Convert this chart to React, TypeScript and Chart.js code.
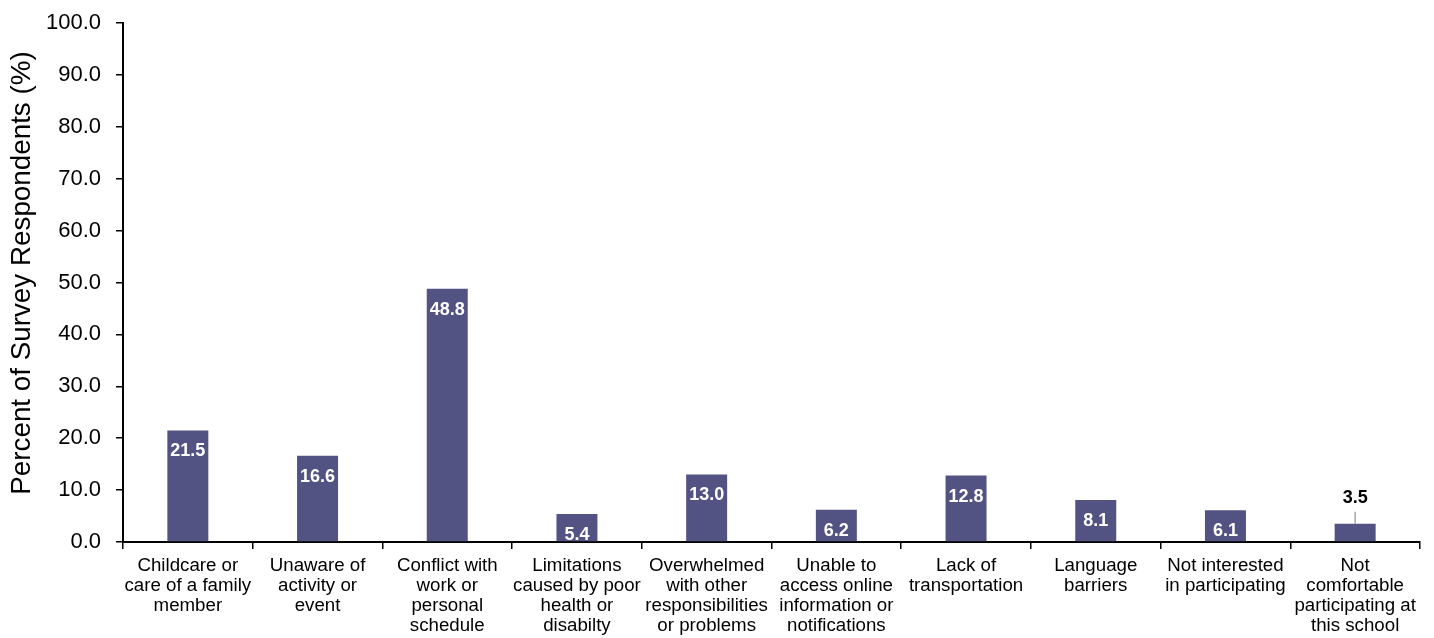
import React, { useEffect, useRef } from "react";
import { Chart, registerables } from "chart.js";

Chart.register(...registerables);

const categories: string[][] = [
  ["Childcare or", "care of a family", "member"],
  ["Unaware of", "activity or", "event"],
  ["Conflict with", "work or", "personal", "schedule"],
  ["Limitations", "caused by poor", "health or", "disabilty"],
  ["Overwhelmed", "with other", "responsibilities", "or problems"],
  ["Unable to", "access online", "information or", "notifications"],
  ["Lack of", "transportation"],
  ["Language", "barriers"],
  ["Not interested", "in participating"],
  ["Not", "comfortable", "participating at", "this school"],
];

const percentValues: number[] = [21.5, 16.6, 48.8, 5.4, 13.0, 6.2, 12.8, 8.1, 6.1, 3.5];

const yAxisTitle = "Percent of Survey Respondents (%)";
const FONT = '"Liberation Sans", Arial, sans-serif';

const labelPlugin = {
  id: "barLabels",
  afterDatasetsDraw(chart: any) {
    const ctx = chart.ctx;
    const meta = chart.getDatasetMeta(0);
    const data = chart.data.datasets[0].data as number[];
    ctx.save();
    ctx.font = `bold 18px ${FONT}`;
    ctx.textAlign = "center";
    ctx.textBaseline = "middle";
    meta.data.forEach((el: any, i: number) => {
      const v = data[i];
      const txt = v.toFixed(1);
      if (v >= 5) {
        ctx.fillStyle = "#ffffff";
        ctx.fillText(txt, el.x, el.y + 21);
      } else {
        ctx.strokeStyle = "#a6a6a6";
        ctx.lineWidth = 1.5;
        ctx.beginPath();
        ctx.moveTo(el.x, el.y - 12);
        ctx.lineTo(el.x, el.y);
        ctx.stroke();
        ctx.fillStyle = "#000000";
        ctx.fillText(txt, el.x, el.y - 26);
      }
    });
    ctx.restore();
    // y-axis title
    ctx.save();
    ctx.font = `27.8px ${FONT}`;
    ctx.fillStyle = "#000";
    ctx.textAlign = "center";
    ctx.textBaseline = "middle";
    ctx.translate(22, 273);
    ctx.rotate(-Math.PI / 2);
    ctx.fillText(yAxisTitle, 0, 0);
    ctx.restore();
  },
};

export default function App() {
  const ref = useRef<HTMLCanvasElement | null>(null);
  useEffect(() => {
    if (!ref.current) return;
    const chart = new Chart(ref.current, {
      type: "bar",
      data: {
        labels: categories,
        datasets: [
          {
            data: percentValues,
            backgroundColor: "#535383",
            categoryPercentage: 1,
            barPercentage: 0.316,
          },
        ],
      },
      options: {
        animation: false,
        responsive: false,
        maintainAspectRatio: false,
        layout: { padding: { top: 23, right: 14, left: 0, bottom: 0 } },
        plugins: { legend: { display: false }, tooltip: { enabled: false } },
        scales: {
          x: {
            grid: {
              offset: true,
              drawOnChartArea: false,
              drawTicks: true,
              tickLength: 7,
              color: "#000",
              lineWidth: 1.5,
            },
            border: { display: true, color: "#000", width: 2 },
            ticks: {
              color: "#000",
              font: { family: FONT, size: 18.7, lineHeight: 1.06 },
              maxRotation: 0,
              minRotation: 0,
              autoSkip: false,
              padding: 7,
            },
            afterFit(scale: any) {
              scale.height = 96;
              scale.paddingLeft = 0;
              scale.paddingRight = 0;
            },
          },
          y: {
            min: 0,
            max: 100,
            grid: {
              drawOnChartArea: false,
              drawTicks: true,
              tickLength: 7,
              color: "#000",
              lineWidth: 1.5,
            },
            border: { display: true, color: "#000", width: 2 },
            ticks: {
              stepSize: 10,
              color: "#000",
              font: { family: FONT, size: 22 },
              padding: 15,
              callback: (v: any) => Number(v).toFixed(1),
            },
            title: { display: false },
            afterFit(scale: any) {
              scale.width = 123;
              scale.paddingTop = 0;
              scale.paddingBottom = 0;
            },
          },
        },
      },
      plugins: [labelPlugin],
    });
    return () => chart.destroy();
  }, []);
  return (
    <div style={{ position: "fixed", left: 0, top: 0, width: 1434, height: 638, background: "#fff" }}>
      <canvas ref={ref} width={1434} height={638} style={{ width: 1434, height: 638 }} />
    </div>
  );
}
